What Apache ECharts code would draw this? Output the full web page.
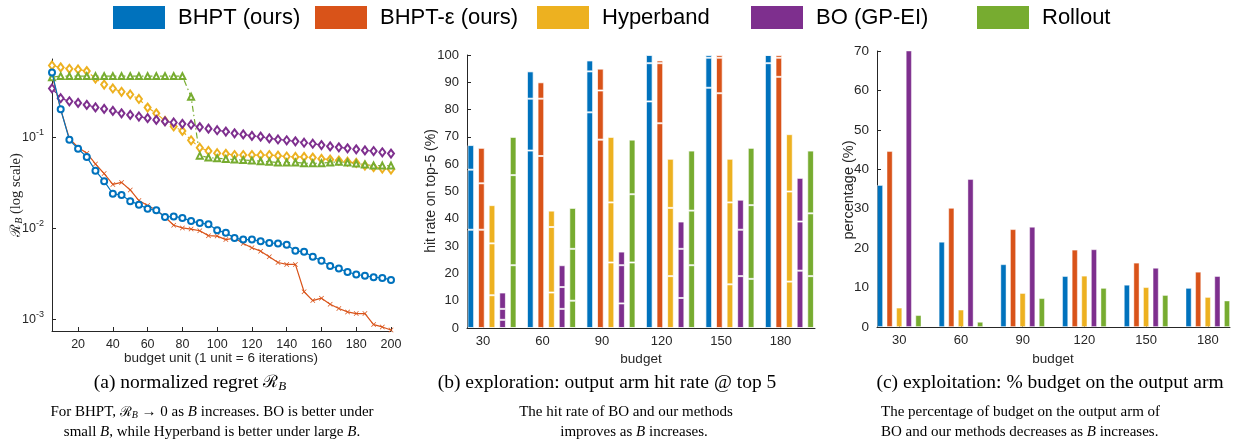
<!DOCTYPE html>
<html><head><meta charset="utf-8">
<script src="https://cdn.jsdelivr.net/npm/echarts@6/dist/echarts.min.js"></script>
<style>html,body{margin:0;padding:0;background:#fff}#c{width:1236px;height:445px}</style>
</head><body><div id="c"></div><script>
const methods = ['BHPT (ours)', 'BHPT-ε (ours)', 'Hyperband', 'BO (GP-EI)', 'Rollout'];
const colors = ['#0072BD', '#D95319', '#EDB120', '#7E2F8E', '#77AC30'];

// (a) normalized regret vs budget unit
const budgetUnits = [5,10,15,20,25,30,35,40,45,50,55,60,65,70,75,80,85,90,95,100,105,110,115,120,125,130,135,140,145,150,155,160,165,170,175,180,185,190,195,200];
const regretBHPT = [0.52,0.204,0.094,0.075,0.061,0.043,0.033,0.024,0.0232,0.0199,0.0182,0.0164,0.0158,0.0133,0.0135,0.0130,0.0120,0.0114,0.0111,0.0095,0.0089,0.0078,0.0075,0.0075,0.0072,0.0069,0.0068,0.0066,0.00565,0.0055,0.00486,0.0044,0.00384,0.0036,0.0033,0.0031,0.0030,0.00289,0.00284,0.0027];
const regretBHPTeps = [0.49,0.204,0.097,0.078,0.067,0.051,0.040,0.0304,0.032,0.0264,0.0202,0.0178,0.0159,0.0133,0.0108,0.0101,0.0098,0.0094,0.0083,0.0082,0.0075,0.0078,0.0068,0.0061,0.0056,0.00486,0.0042,0.0040,0.0040,0.0020,0.0016,0.0017,0.00146,0.00131,0.0012,0.00115,0.00115,0.00087,0.00082,0.00076];
const regretHyperband = [0.62,0.59,0.57,0.56,0.537,0.445,0.382,0.346,0.318,0.297,0.265,0.213,0.184,0.152,0.132,0.118,0.093,0.077,0.071,0.067,0.066,0.064,0.064,0.064,0.064,0.064,0.063,0.0616,0.061,0.061,0.060,0.058,0.057,0.0556,0.054,0.0524,0.049,0.047,0.0455,0.0443];
const regretBO = [0.346,0.27,0.25,0.24,0.228,0.214,0.206,0.196,0.184,0.177,0.17,0.163,0.156,0.15,0.146,0.141,0.138,0.13,0.125,0.12,0.116,0.111,0.108,0.104,0.102,0.0975,0.095,0.093,0.0905,0.0875,0.0853,0.0824,0.0797,0.0778,0.0758,0.074,0.072,0.0708,0.0686,0.0664];
const regretRollout = [0.46,0.473,0.473,0.473,0.473,0.473,0.473,0.473,0.473,0.473,0.473,0.473,0.473,0.473,0.473,0.473,0.28,0.063,0.060,0.059,0.058,0.057,0.0565,0.0556,0.0547,0.054,0.053,0.053,0.053,0.052,0.052,0.052,0.053,0.054,0.053,0.0516,0.0503,0.049,0.049,0.049];
const regretTicks = [20,40,60,80,100,120,140,160,180,200];

// (b) hit rate on top-5 (%) per budget; bar totals and inner segment boundaries
const budgets = [30,60,90,120,150,180];
const hitBHPT = [67,94,98,100,100,100];
const hitBHPTeps = [66,90,95,98,100,100];
const hitHyperband = [45,43,70,62,62,71];
const hitBO = [13,23,28,39,47,55];
const hitRollout = [70,44,69,65,66,65];
const cutsBHPT = [[36,58],[65,84],[79,94],[83,97],[88,99],[97]];
const cutsBHPTeps = [[36,53],[63,84],[69,87],[75,97],[86,99],[92,99]];
const cutsHyperband = [[12,31],[13,37],[24,46],[19,44],[16,46],[17,50]];
const cutsBO = [[3,7],[7,15],[9,23],[11,29],[19,36],[21,39]];
const cutsRollout = [[23,56],[10,29],[24,49],[23,43],[18,45],[19,42]];

// (c) % budget on output arm
const pctBHPT = [36,21.6,15.9,12.9,10.7,9.9];
const pctBHPTeps = [44.6,30.2,24.8,19.6,16.3,14.0];
const pctHyperband = [4.9,4.4,8.6,13.0,10.1,7.6];
const pctBO = [70.2,37.5,25.4,19.7,15.0,12.9];
const pctRollout = [3.0,1.3,7.3,9.9,8.1,6.7];

const regretAll = [regretBHPT, regretBHPTeps, regretHyperband, regretBO, regretRollout];
const hitAll = [hitBHPT, hitBHPTeps, hitHyperband, hitBO, hitRollout];
const cutsAll = [cutsBHPT, cutsBHPTeps, cutsHyperband, cutsBO, cutsRollout];
const pctAll = [pctBHPT, pctBHPTeps, pctHyperband, pctBO, pctRollout];

const AX = '#262626';
const SANS = '"Liberation Sans", Arial, sans-serif';
const SERIF = '"Liberation Serif", "Times New Roman", serif';

function axisCommon(fs) {
  return {
    axisLine: { show: true, onZero: false, lineStyle: { color: AX, width: 1 } },
    axisTick: { show: true, inside: true, length: 4, lineStyle: { color: AX } },
    axisLabel: { color: AX, fontSize: fs, fontFamily: SANS },
    splitLine: { show: false }
  };
}

const series = [];
// (c) bars
pctAll.forEach((arr, m) => {
  series.push({
    type: 'bar', name: methods[m], xAxisIndex: 3, yAxisIndex: 2,
    barWidth: 6, barGap: '60%',
    data: budgets.map((b, g) => [b, arr[g]]),
    itemStyle: { color: colors[m], borderColor: 'rgba(255,255,255,0.55)', borderWidth: 0.8 }
  });
});
// (b) stacked segment bars (value first so that stacking acts on the value dimension)
hitAll.forEach((tot, m) => {
  for (let k = 0; k < 3; k++) {
    series.push({
      type: 'bar', name: methods[m], xAxisIndex: 1, yAxisIndex: 1,
      stack: 'hit' + m, barWidth: 6.7, barGap: '58%',
      encode: { x: 1, y: 0 },
      data: budgets.map((b, g) => {
        const c = cutsAll[m][g];
        const bounds = [0].concat(c).concat([tot[g]]);
        const v = k + 1 < bounds.length ? bounds[k + 1] - bounds[k] : 0;
        return [v, b];
      }),
      itemStyle: { color: colors[m], borderColor: 'rgba(255,255,255,0.7)', borderWidth: 1 }
    });
  }
});
// (a) lines
const symbols = ['emptyCircle',
  'path://M1,0L5,4L9,0L10,1L6,5L10,9L9,10L5,6L1,10L0,9L4,5L0,1Z',
  'emptyDiamond', 'emptyDiamond', 'emptyTriangle'];
const symSizes = [6, 5, [6, 8], [6, 8], 6];
const lineTypes = ['solid', 'solid', [6, 3, 1.5, 3], [6, 3, 1.5, 3], [6, 3, 1.5, 3]];
regretAll.forEach((arr, m) => {
  series.push({
    type: 'line', name: methods[m], xAxisIndex: 0, yAxisIndex: 0,
    data: budgetUnits.map((x, i) => [x, arr[i]]),
    symbol: symbols[m], symbolSize: symSizes[m], showAllSymbol: true,
    lineStyle: { color: colors[m], width: 1.2, type: lineTypes[m] },
    itemStyle: { color: colors[m], borderWidth: 1 },
    z: m === 0 ? 4 : 3
  });
});

const legendLefts = [113, 315, 537, 751, 977];
const legends = methods.map((name, m) => ({
  left: legendLefts[m], top: 6, orient: 'horizontal', padding: 0,
  data: [{ name: name, icon: 'rect' }],
  itemWidth: 52, itemHeight: 23, selectedMode: false,
  itemStyle: { borderWidth: 0 },
  textStyle: { fontSize: 22, fontFamily: SANS, color: '#000', padding: [0, 0, 0, 8] }
}));

const regretY = Object.assign(axisCommon(12), {
  gridIndex: 0, type: 'log', logBase: 10, min: 0.00074, max: 0.73
});
regretY.axisLabel = {
  color: AX, fontFamily: SANS, showMinLabel: false, showMaxLabel: false,
  formatter: function (v) {
    const l = Math.log10(v), e = Math.round(l);
    if (Math.abs(l - e) > 1e-6) return '';
    return '{b|10}{p|' + e + '}';
  },
  rich: { b: { fontSize: 12.5, fontFamily: SANS, color: AX }, p: { fontSize: 9, fontFamily: SANS, color: AX, padding: [0, 0, 9, 0] } }
};

const xA = Object.assign(axisCommon(12), { gridIndex: 0, type: 'value', min: 5, max: 200 });
xA.axisLabel = { color: AX, fontSize: 12.5, fontFamily: SANS, customValues: regretTicks, margin: 7 };
xA.axisTick = { show: true, inside: true, length: 4, lineStyle: { color: AX }, customValues: regretTicks };

const xBbars = { gridIndex: 1, type: 'value', min: 17.4, max: 192.9, show: false };
const xB = Object.assign(axisCommon(13), { gridIndex: 1, type: 'value', min: 21.9, max: 197.4, position: 'bottom' });
xB.axisLabel = { color: AX, fontSize: 13, fontFamily: SANS, customValues: budgets, margin: 7 };
xB.axisTick = { show: true, inside: true, length: 4, lineStyle: { color: AX }, customValues: budgets };

const xC = Object.assign(axisCommon(13), { gridIndex: 2, type: 'value', min: 19.2, max: 190.8 });
xC.axisLabel = { color: AX, fontSize: 13, fontFamily: SANS, customValues: budgets, margin: 7 };
xC.axisTick = { show: true, inside: true, length: 4, lineStyle: { color: AX }, customValues: budgets };

const yB = Object.assign(axisCommon(13), { gridIndex: 1, type: 'value', min: 0, max: 100, interval: 10 });
const yC = Object.assign(axisCommon(13.5), { gridIndex: 2, type: 'value', min: 0, max: 70, interval: 10 });

function t(x, y, text, font, opts) {
  return Object.assign({
    type: 'text', x: x, y: y,
    style: Object.assign({ text: text, font: font, fill: '#000', align: 'center', verticalAlign: 'middle' }, opts && opts.style || {}),
  }, opts && opts.el || {});
}
const capRich = {
  r: { fontFamily: '"DejaVu Serif", serif', fontSize: 17, fill: '#000' },
  s: { fontFamily: SERIF, fontStyle: 'italic', fontSize: 13, padding: [8, 0, 0, 0], fill: '#000' },
  i: { fontFamily: SERIF, fontStyle: 'italic', fontSize: 15, fill: '#000' },
  rs: { fontFamily: '"DejaVu Serif", serif', fontSize: 13.5, fill: '#000' },
  ss: { fontFamily: SERIF, fontStyle: 'italic', fontSize: 10, padding: [6, 0, 0, 0], fill: '#000' }
};
const graphics = [
  // axis titles
  t(221, 358, 'budget unit (1 unit = 6 iterations)', '13.5px ' + SANS, { style: { fill: AX } }),
  t(641, 359, 'budget', '13.5px ' + SANS, { style: { fill: AX } }),
  t(1053, 359, 'budget', '13.5px ' + SANS, { style: { fill: AX } }),
  t(431, 191, 'hit rate on top-5 (%)', '14px ' + SANS, { style: { fill: AX }, el: { rotation: Math.PI / 2 } }),
  t(849, 190, 'percentage (%)', '14.5px ' + SANS, { style: { fill: AX }, el: { rotation: Math.PI / 2 } }),
  t(16, 195, '{r|ℛ}{s|B} (log scale)', '14.5px ' + SERIF, {
    style: { fill: AX, rich: {
      r: { fontFamily: '"DejaVu Serif", serif', fontSize: 14.5, fill: AX },
      s: { fontFamily: SERIF, fontStyle: 'italic', fontSize: 10, padding: [7, 0, 0, 0], fill: AX } } },
    el: { rotation: Math.PI / 2 } }),
  // captions
  t(190, 383, '(a) normalized regret {r|ℛ}{s|B}', '19.5px ' + SERIF, { style: { rich: capRich } }),
  t(607, 383, '(b) exploration: output arm hit rate @ top 5', '19.5px ' + SERIF),
  t(1050, 383, '(c) exploitation: % budget on the output arm', '19.5px ' + SERIF),
  t(212, 412, 'For BHPT, {rs|ℛ}{ss|B} → 0 as {i|B} increases. BO is better under', '15px ' + SERIF, { style: { rich: capRich } }),
  t(212, 432, 'small {i|B}, while Hyperband is better under large {i|B}.', '15px ' + SERIF, { style: { rich: capRich } }),
  t(626, 412, 'The hit rate of BO and our methods', '15px ' + SERIF),
  t(634, 432, 'improves as {i|B} increases.', '15px ' + SERIF, { style: { rich: capRich } }),
  t(881, 412, 'The percentage of budget on the output arm of', '15px ' + SERIF, { style: { align: 'left' } }),
  t(881, 432, 'BO and our methods decreases as {i|B} increases.', '15px ' + SERIF, { style: { align: 'left', rich: capRich } })
];

const chart = echarts.init(document.getElementById('c'), null, { renderer: 'canvas' });
chart.setOption({
  animation: false,
  backgroundColor: '#fff',
  legend: legends,
  grid: [
    { left: 52, top: 59, width: 339, height: 272 },
    { left: 467, top: 55, width: 348, height: 273 },
    { left: 877, top: 51, width: 353, height: 276 }
  ],
  xAxis: [xA, xBbars, xB, xC],
  yAxis: [regretY, yB, yC],
  series: series,
  graphic: graphics
});
</script></body></html>
